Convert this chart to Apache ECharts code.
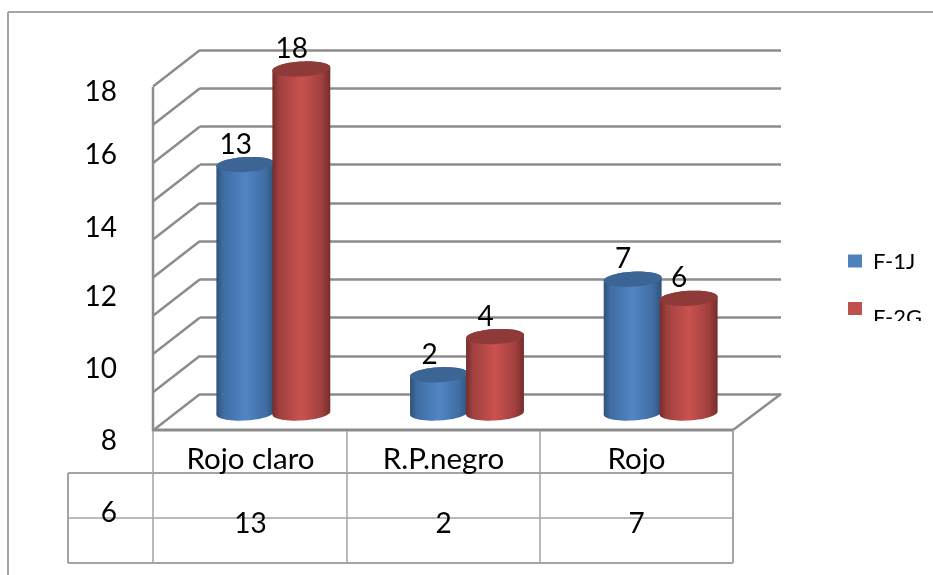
<!DOCTYPE html>
<html><head><meta charset="utf-8">
<style>html,body{margin:0;padding:0;background:#fff}#c{width:933px;height:575px}</style>
<script src="https://cdn.jsdelivr.net/npm/echarts@6/dist/echarts.min.js"></script>
</head><body><div id="c"></div>
<script>
const categories = ['Rojo claro', 'R.P.negro', 'Rojo'];
const f1j = [13, 2, 7];
const f2g = [18, 4, 6];
const gridValues = [0, 2, 4, 6, 8, 10, 12, 14, 16, 18];
const sideTickLabels = [18, 16, 14, 12, 10, 8, 6];

const FONT = 'Lato, "Open Sans", sans-serif';
const LINE = '#8c8c8c', THIN = '#a3a3a3';
const G = echarts.graphic;

function ell(cx, cy, rx, ry, a0, a1, n) {
  const th = -3.3 * Math.PI / 180, out = [];
  for (let i = 0; i <= n; i++) {
    const t = a0 + (a1 - a0) * i / n;
    out.push([cx + rx * Math.cos(t) * Math.cos(th) - ry * Math.sin(t) * Math.sin(th),
              cy + rx * Math.cos(t) * Math.sin(th) + ry * Math.sin(t) * Math.cos(th)]);
  }
  return out;
}
function cylinder(dx, edge, mid, edge2, topColor) {
  return function (params, api) {
    const RX = 29, RY = 7.5, DY = 19;
    const top = api.coord([api.value(0), api.value(1)]);
    const base = api.coord([api.value(0), 0]);
    const cx = top[0] + dx, ty = top[1] + DY, by = base[1] + DY;
    const lower = ell(cx, by, RX, RY, 0, Math.PI, 30);
    const upper = ell(cx, ty, RX, RY, Math.PI, 2 * Math.PI, 30);
    return {
      type: 'group',
      children: [
        { type: 'polygon', shape: { points: lower.concat(upper) },
          style: { fill: new G.LinearGradient(0, 0, 1, 0, [
            { offset: 0, color: edge }, { offset: 0.12, color: edge2 },
            { offset: 0.5, color: mid }, { offset: 0.85, color: edge2 }, { offset: 1, color: edge }]) } },
        { type: 'polygon', shape: { points: ell(cx, ty, RX, RY, 0, 2 * Math.PI, 60) },
          style: { fill: topColor } },
        { type: 'text', x: cx - 9.5, y: ty - 20,
          style: { text: String(api.value(1)), font: '28px ' + FONT, fill: '#000',
                   align: 'center', verticalAlign: 'middle' } }
      ]
    };
  };
}
const pairs = arr => arr.map((v, i) => [i, v]);
const hl = (x1, y1, x2, y2, c, w) => ({ type: 'line', shape: { x1, y1, x2, y2 }, style: { stroke: c, lineWidth: w }, silent: true });

const option = {
  animation: false,
  backgroundColor: '#fff',
  color: ['#4f81bd', '#c0504d'],
  grid: [
    { left: 200, top: 50, width: 581, height: 344 },
    { left: 125, top: 92, width: 20, height: 421 },
    { left: 154, top: 402, width: 579, height: 42 },
    { left: 154, top: 468, width: 579, height: 42 }
  ],
  xAxis: [
    { gridIndex: 0, type: 'category', data: categories, axisLine: { show: false }, axisTick: { show: false }, axisLabel: { show: false } },
    { gridIndex: 1, type: 'value', show: false },
    { gridIndex: 2, type: 'category', data: categories, axisLine: { show: false }, axisTick: { show: false },
      axisLabel: { margin: 0, fontFamily: FONT, fontSize: 29.5, color: '#000', verticalAlign: 'top', interval: 0 } },
    { gridIndex: 3, type: 'category', data: f1j.map(String), axisLine: { show: false }, axisTick: { show: false },
      axisLabel: { margin: 0, fontFamily: FONT, fontSize: 28, color: '#000', verticalAlign: 'top', interval: 0 } }
  ],
  yAxis: [
    { gridIndex: 0, type: 'value', min: 0, max: 18, interval: 2,
      axisLine: { show: false }, axisTick: { show: false }, axisLabel: { show: false },
      splitLine: { show: true, lineStyle: { color: LINE, width: 2.5 } } },
    { gridIndex: 1, type: 'value', min: 6, max: 18,
      axisLine: { show: false }, axisTick: { show: false }, splitLine: { show: false },
      axisLabel: { margin: 8, fontFamily: FONT, fontSize: 28, color: '#000',
        customValues: [18, 16.2, 14.12, 12.15, 10.1, 8.05, 6],
        formatter: v => String(sideTickLabels.reduce((b, t) => Math.abs(t - v) < Math.abs(b - v) ? t : b)) } },
    { gridIndex: 2, type: 'value', show: false },
    { gridIndex: 3, type: 'value', show: false }
  ],
  legend: {
    orient: 'vertical', left: 843, top: 246, itemWidth: 14, itemHeight: 13, itemGap: 29,
    icon: 'rect', data: ['F-1J', 'F-2G'],
    formatter: n => n === 'F-1J' ? '{a|' + n + '}' : '{b|' + n + '}',
    textStyle: { fontFamily: FONT, fontSize: 22, color: '#000',
      rich: { a: { fontFamily: FONT, fontSize: 22, padding: [2, 0, 0, 6] }, b: { fontFamily: FONT, fontSize: 22, padding: [18, 0, 0, 6] } } }
  },
  graphic: [
    hl(153, 87, 153, 431, LINE, 2.5),
    hl(152, 430, 733, 430, LINE, 3),
    hl(733, 430, 781, 394, LINE, 2.5),
    hl(8, 12, 933, 12, '#a6a6a6', 2),
    hl(8, 12, 8, 575, '#a6a6a6', 2),
    hl(68, 473, 733, 473, THIN, 2),
    hl(68, 518, 733, 518, THIN, 1.5),
    hl(68, 563, 733, 563, THIN, 2),
    hl(68, 473, 68, 563, THIN, 2),
    hl(153, 431, 153, 563, THIN, 1.5),
    hl(347, 431, 347, 563, THIN, 1.5),
    hl(540, 431, 540, 563, THIN, 1.5),
    hl(733, 431, 733, 563, THIN, 2),
    { type: 'rect', z: 100, shape: { x: 862, y: 321, width: 70, height: 30 }, style: { fill: '#fff' }, silent: true }
  ],
  series: [
    { name: 'walls', type: 'custom', xAxisIndex: 0, yAxisIndex: 0, silent: true, z: 1,
      data: gridValues.map(v => [0, v]),
      renderItem(params, api) {
        const y = api.coord([0, api.value(1)])[1], x = params.coordSys.x;
        return { type: 'line', shape: { x1: x, y1: y, x2: x - 47, y2: y + 36.5 }, style: { stroke: LINE, lineWidth: 2.5 } };
      } },
    { name: 'F-1J', type: 'custom', xAxisIndex: 0, yAxisIndex: 0, z: 3, itemStyle: { color: '#4f81bd' },
      data: pairs(f1j), renderItem: cylinder(-51.5, '#2f5279', '#5285c4', '#3f6da3', '#3c6596') },
    { name: 'F-2G', type: 'custom', xAxisIndex: 0, yAxisIndex: 0, z: 4, itemStyle: { color: '#c0504d' },
      data: pairs(f2g), renderItem: cylinder(4.5, '#752d2b', '#c9524f', '#a0403e', '#8e3a38') }
  ]
};
echarts.init(document.getElementById('c'), null, { renderer: 'canvas' }).setOption(option);
</script></body></html>
